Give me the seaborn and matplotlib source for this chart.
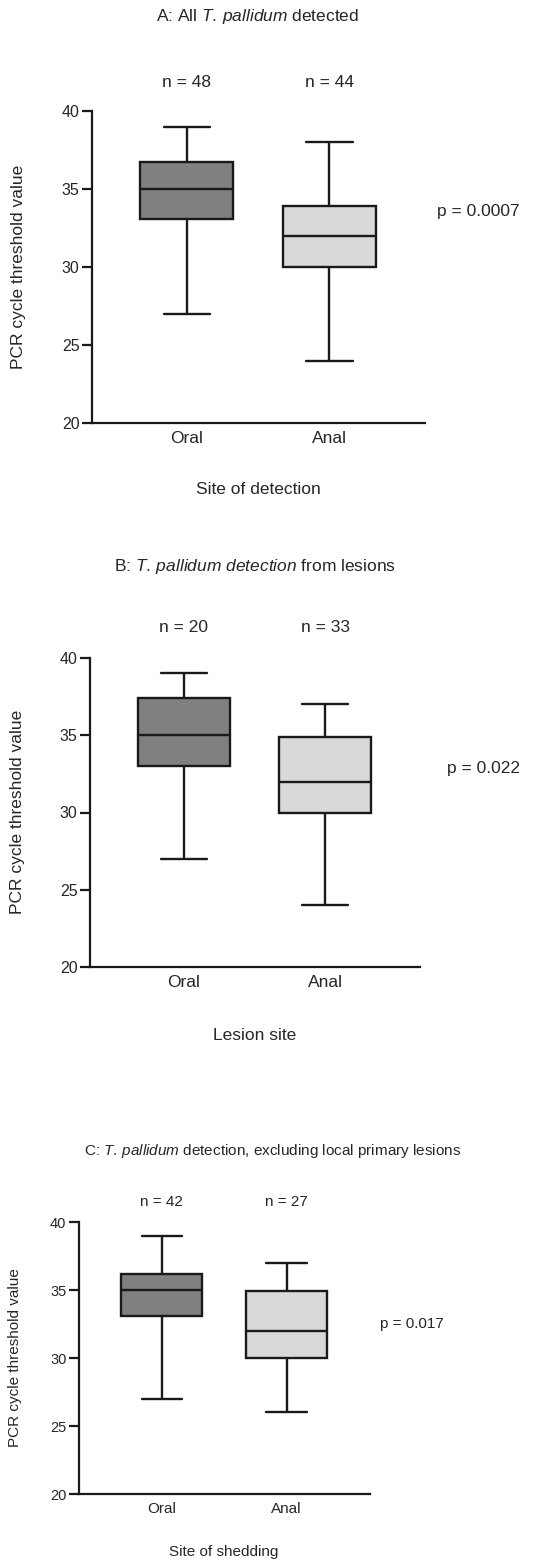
import numpy as np
import pandas as pd
import seaborn as sns
import matplotlib.pyplot as plt
from matplotlib.transforms import blended_transform_factory

# Summary values: min, Q1, median, Q3, max (whiskers = min to max)
sites = ['Oral', 'Anal']

a_oral = [27, 33.1, 35, 36.7, 39]
a_anal = [24, 30, 32, 33.9, 38]
a_n = [48, 44]

b_oral = [27, 33, 35, 37.4, 39]
b_anal = [24, 30, 32, 34.9, 37]
b_n = [20, 33]

c_oral = [27, 33.1, 35, 36.2, 39]
c_anal = [26, 30, 32, 34.95, 37]
c_n = [42, 27]

p_values = ['p = 0.0007', 'p = 0.022', 'p = 0.017']
x_labels = ['Site of detection', 'Lesion site', 'Site of shedding']
y_ticks = [20, 25, 30, 35, 40]

sns.set_theme(style='ticks')
plt.rcParams['font.family'] = ['Liberation Sans', 'DejaVu Sans']
plt.rcParams['mathtext.fontset'] = 'custom'
plt.rcParams['mathtext.it'] = 'Liberation Sans:italic'
plt.rcParams['mathtext.rm'] = 'Liberation Sans'

W, H = 533, 1561
fig = plt.figure(figsize=(W / 100, H / 100), dpi=100)

palette = {'Oral': '#808080', 'Anal': '#d9d9db'}
edge = '#1a1a1a'


def make_df(oral, anal):
    return pd.DataFrame({'site': ['Oral'] * len(oral) + ['Anal'] * len(anal),
                         'ct': list(oral) + list(anal)})


# panel boxes in pixels: left, right, top, bottom, font size, tick size
panels = [
    (a_oral, a_anal, a_n, 92, 425, 111, 423, 12.5, 11.5),
    (b_oral, b_anal, b_n, 90, 420, 658, 967, 12.5, 11.5),
    (c_oral, c_anal, c_n, 79, 370, 1222, 1494, 11, 10.5),
]
n_y = [1.09, 1.10, 1.074]
p_pos = [(1.036, 0.679), (1.082, 0.644), (1.034, 0.625)]

for i, (oral, anal, ns, l, r, t, b, fs, tfs) in enumerate(panels):
    ax = fig.add_axes([l / W, 1 - b / H, (r - l) / W, (b - t) / H])
    df = make_df(oral, anal)
    sns.boxplot(data=df, x='site', y='ct', hue='site', order=sites, palette=palette,
                whis=(0, 100), width=0.65, linecolor=edge, linewidth=1.7,
                showfliers=False, legend=False, ax=ax)
    ax.set_xlim(-0.665, 1.67)
    ax.set_ylim(20, 40)
    ax.set_yticks(y_ticks)
    ax.set_xlabel('')
    ax.set_ylabel('')
    sns.despine(ax=ax)
    for s in ['left', 'bottom']:
        ax.spines[s].set_linewidth(1.6)
        ax.spines[s].set_color(edge)
    ax.tick_params(axis='y', length=7, width=1.6, color=edge, labelsize=tfs, pad=2)
    ax.tick_params(axis='x', length=0, labelsize=fs, pad=6)

    tr = blended_transform_factory(ax.transData, ax.transAxes)
    for j, n in enumerate(ns):
        ax.text(j, n_y[i], f'n = {n}', transform=tr, ha='center', va='center',
                fontsize=fs, clip_on=False)
    ax.text(p_pos[i][0], p_pos[i][1], p_values[i], transform=ax.transAxes,
            ha='left', va='center', fontsize=fs, clip_on=False)

# titles, x labels and y labels (pixel positions from the figure)
fig.text(258 / W, 1 - 17 / H, 'A: All $\\mathit{T.\\,pallidum}$ detected', ha='center', va='center', fontsize=12.5)
fig.text(255 / W, 1 - 566 / H, 'B: $\\mathit{T.\\,pallidum\\ detection}$ from lesions', ha='center', va='center', fontsize=12.5)
fig.text(273 / W, 1 - 1151 / H, 'C: $\\mathit{T.\\,pallidum}$ detection, excluding local primary lesions',
         ha='center', va='center', fontsize=11)

fig.text(258 / W, 1 - 490 / H, x_labels[0], ha='center', va='center', fontsize=12.5)
fig.text(255 / W, 1 - 1036 / H, x_labels[1], ha='center', va='center', fontsize=12.5)
fig.text(224 / W, 1 - 1552 / H, x_labels[2], ha='center', va='center', fontsize=11)

fig.text(19 / W, 1 - 267 / H, 'PCR cycle threshold value', rotation=90, ha='center', va='center', fontsize=12.5)
fig.text(18 / W, 1 - 812 / H, 'PCR cycle threshold value', rotation=90, ha='center', va='center', fontsize=12.5)
fig.text(15 / W, 1 - 1358 / H, 'PCR cycle threshold value', rotation=90, ha='center', va='center', fontsize=11)

fig.savefig('out.png', dpi=100, facecolor='white')
